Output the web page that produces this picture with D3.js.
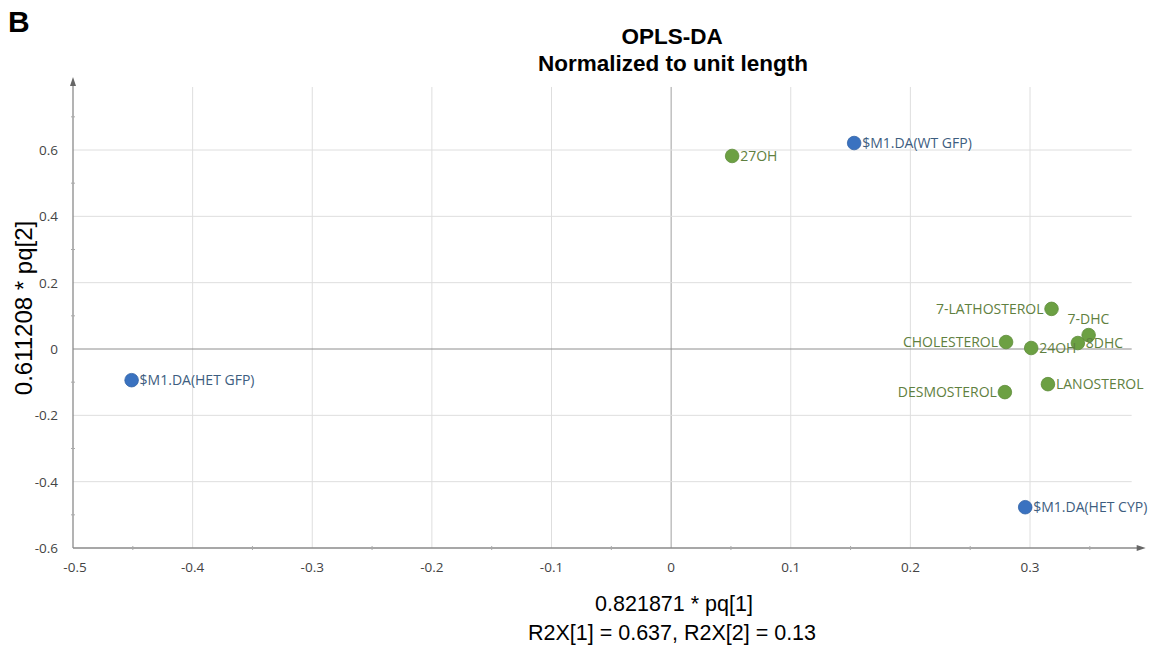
<!DOCTYPE html>
<html><head><meta charset="utf-8">
<script src="https://cdn.jsdelivr.net/npm/d3@7"></script>
<style>body{margin:0;background:#fff}svg{display:block}</style>
</head><body><svg id="c" width="1153" height="653"></svg>
<script>
const names = ["$M1.DA(WT GFP)","27OH","$M1.DA(HET GFP)","$M1.DA(HET CYP)","7-LATHOSTEROL","7-DHC","8DHC","CHOLESTEROL","24OH","DESMOSTEROL","LANOSTEROL"];
const xVals = [0.153,0.051,-0.451,0.296,0.318,0.349,0.340,0.280,0.301,0.279,0.315];
const yVals = [0.621,0.582,-0.094,-0.477,0.121,0.042,0.018,0.021,0.003,-0.130,-0.106];
const groups = ["obs","var","obs","obs","var","var","var","var","var","var","var"];
const labelSide = ["right","right","right","right","left","above","right","left","right","left","right"];
const xTicks = [-0.5,-0.4,-0.3,-0.2,-0.1,0,0.1,0.2,0.3];
const yTicks = [-0.6,-0.4,-0.2,0,0.2,0.4,0.6];

const svg = d3.select("#c");
const x = d3.scaleLinear().domain([-0.5,0.3]).range([73,1030]);
const y = d3.scaleLinear().domain([-0.6,0.6]).range([548,150]);
const xMax = 0.385, yMax = 0.79;
const x0 = x(-0.5), yb = y(-0.6);

// grid
svg.append("g").selectAll("line").data(xTicks.filter(d=>d>-0.5)).join("line")
  .attr("x1",d=>x(d)).attr("x2",d=>x(d)).attr("y1",y(yMax)).attr("y2",yb)
  .attr("stroke",d=>d===0?"#a0a0a0":"#dedede").attr("stroke-width",1);
svg.append("g").selectAll("line").data(yTicks.filter(d=>d>-0.6)).join("line")
  .attr("x1",x0).attr("x2",x(xMax)).attr("y1",d=>y(d)).attr("y2",d=>y(d))
  .attr("stroke",d=>d===0?"#8e8e8e":"#dedede").attr("stroke-width",1);

// axes
const ax = "#8a8a8a";
svg.append("line").attr("x1",x0).attr("x2",x(xMax)+8).attr("y1",yb).attr("y2",yb).attr("stroke",ax).attr("stroke-width",1.3);
svg.append("line").attr("x1",x0).attr("x2",x0).attr("y1",yb).attr("y2",y(yMax)-6).attr("stroke",ax).attr("stroke-width",1.3);
svg.append("path").attr("d",`M${x(xMax)+14},${yb} l-9,-3 l0,6 z`).attr("fill","#666");
svg.append("path").attr("d",`M${x0},${y(yMax)-10} l-3,9 l6,0 z`).attr("fill","#666");

// minor ticks
const xMinor = d3.range(-0.45,0.38,0.1);
svg.append("g").selectAll("line").data(xMinor).join("line")
  .attr("x1",d=>x(d)).attr("x2",d=>x(d)).attr("y1",yb-2).attr("y2",yb+2).attr("stroke","#aaa");
const yMinor = d3.range(-0.5,0.75,0.2);
svg.append("g").selectAll("line").data(yMinor).join("line")
  .attr("x1",x0-2).attr("x2",x0+2).attr("y1",d=>y(d)).attr("y2",d=>y(d)).attr("stroke","#aaa");

// tick labels
const tf = "'Open Sans', 'DejaVu Sans Condensed', sans-serif";
svg.append("g").selectAll("text").data(xTicks).join("text")
  .attr("x",d=>x(d)+(d===-0.5?2:0)).attr("y",yb+24).attr("text-anchor","middle")
  .attr("font-family",tf).attr("font-size",13.5).attr("fill","#444")
  .text(d=>d===0?"0":String(d));
svg.append("g").selectAll("text").data(yTicks).join("text")
  .attr("x",58).attr("y",d=>y(d)+5).attr("text-anchor","end")
  .attr("font-family",tf).attr("font-size",13.5).attr("fill","#444")
  .text(d=>d===0?"0":String(d));

// points
const pts = names.map((n,i)=>({n,x:xVals[i],y:yVals[i],g:groups[i],s:labelSide[i]}));
const col = {obs:"#3a72c0",var:"#6ca043"};
const tcol = {obs:"#3d5d80",var:"#5f8040"};
svg.append("g").selectAll("circle").data(pts).join("circle")
  .attr("cx",d=>x(d.x)).attr("cy",d=>y(d.y)).attr("r",6.8)
  .attr("fill",d=>col[d.g]).attr("stroke",d=>d3.color(col[d.g]).darker(0.4)).attr("stroke-width",0.8);
svg.append("g").selectAll("text").data(pts).join("text")
  .attr("x",d=>d.s==="right"?x(d.x)+8:d.s==="left"?x(d.x)-8:x(d.x)-21)
  .attr("y",d=>d.s==="above"?y(d.y)-11:y(d.y)+5)
  .attr("text-anchor",d=>d.s==="left"?"end":"start")
  .attr("font-family",tf).attr("font-size",14).attr("fill",d=>tcol[d.g])
  .text(d=>d.n);

// titles
const af = "'Liberation Sans', Arial, sans-serif";
svg.append("text").attr("x",8).attr("y",32).attr("font-family",af).attr("font-weight","bold").attr("font-size",30).text("B");
svg.append("text").attr("x",672).attr("y",44).attr("text-anchor","middle").attr("font-family",af).attr("font-weight","bold").attr("font-size",22.5).text("OPLS-DA");
svg.append("text").attr("x",673).attr("y",71).attr("text-anchor","middle").attr("font-family",af).attr("font-weight","bold").attr("font-size",22.5).text("Normalized to unit length");
svg.append("text").attr("x",674).attr("y",611).attr("text-anchor","middle").attr("font-family",af).attr("font-size",21.5).text("0.821871 * pq[1]");
svg.append("text").attr("x",672).attr("y",640).attr("text-anchor","middle").attr("font-family",af).attr("font-size",21.5).text("R2X[1] = 0.637, R2X[2] = 0.13");
svg.append("text").attr("transform",`translate(32,308) rotate(-90)`).attr("text-anchor","middle").attr("font-family",af).attr("font-size",24).text("0.611208 * pq[2]");
</script></body></html>
